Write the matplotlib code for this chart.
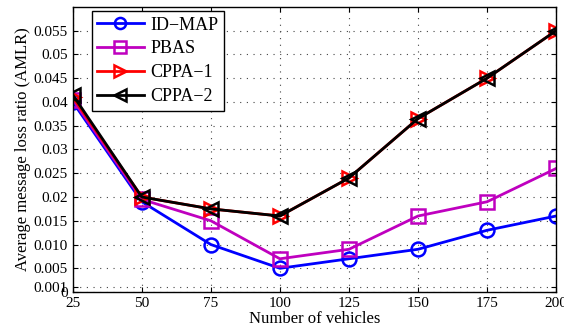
import matplotlib

matplotlib.use("Agg")

import matplotlib.pyplot as plt

vehicles = [25, 50, 75, 100, 125, 150, 175, 200]
id_map = [0.040, 0.019, 0.010, 0.005, 0.007, 0.009, 0.013, 0.016]
pbas = [0.0405, 0.0195, 0.015, 0.007, 0.009, 0.016, 0.019, 0.026]
cppa_1 = [0.041, 0.020, 0.0175, 0.016, 0.024, 0.0365, 0.045, 0.055]
cppa_2 = [0.0415, 0.020, 0.0175, 0.016, 0.024, 0.0365, 0.045, 0.055]

y_ticks = [0, 0.001, 0.005, 0.010, 0.015, 0.02, 0.025, 0.03, 0.035, 0.04, 0.045, 0.05, 0.055]
y_labels = ["0", "0.001", "0.005", "0.010", "0.015", "0.02", "0.025", "0.03",
            "0.035", "0.04", "0.045", "0.05", "0.055"]

plt.rcParams["font.family"] = ["Liberation Serif", "DejaVu Serif"]
plt.rcParams["font.size"] = 11

fig = plt.figure(figsize=(5.64, 3.30), dpi=100)
ax = fig.add_axes([0.129, 0.115, 0.857, 0.864])

style = dict(linewidth=2, markersize=10, markerfacecolor="none", markeredgewidth=1.8)
ax.plot(vehicles, id_map, color="#0000ff", marker="o", label="ID\u2212MAP", **style)
ax.plot(vehicles, pbas, color="#bf00bf", marker="s", label="PBAS", **style)
ax.plot(vehicles, cppa_1, color="#ff0000", marker=">", label="CPPA\u22121", **style)
ax.plot(vehicles, cppa_2, color="#000000", marker="<", label="CPPA\u22122", **style)

ax.set_xlim(25, 200)
ax.set_ylim(0, 0.06)
ax.set_xticks(vehicles)
ax.set_yticks(y_ticks)
ax.set_yticklabels(y_labels)
ax.tick_params(direction="in", top=True, right=True, labelsize=11)
ax.grid(True, linestyle=(0, (1, 5)), linewidth=0.8, color="#444444")
for spine in ax.spines.values():
    spine.set_linewidth(1.0)

ax.set_xlabel("Number of vehicles", fontsize=12, labelpad=1)
ax.set_ylabel("Average message loss ratio (AMLR)", fontsize=12, labelpad=2)

leg = ax.legend(loc="upper left", bbox_to_anchor=(0.039, 0.985), fontsize=13,
                fancybox=False, edgecolor="black", framealpha=1, markerscale=0.8,
                handlelength=2.6, handletextpad=0.35, borderpad=0.3,
                labelspacing=0.38, borderaxespad=0)
leg.get_frame().set_linewidth(1.0)

fig.savefig("out.png", dpi=100)
